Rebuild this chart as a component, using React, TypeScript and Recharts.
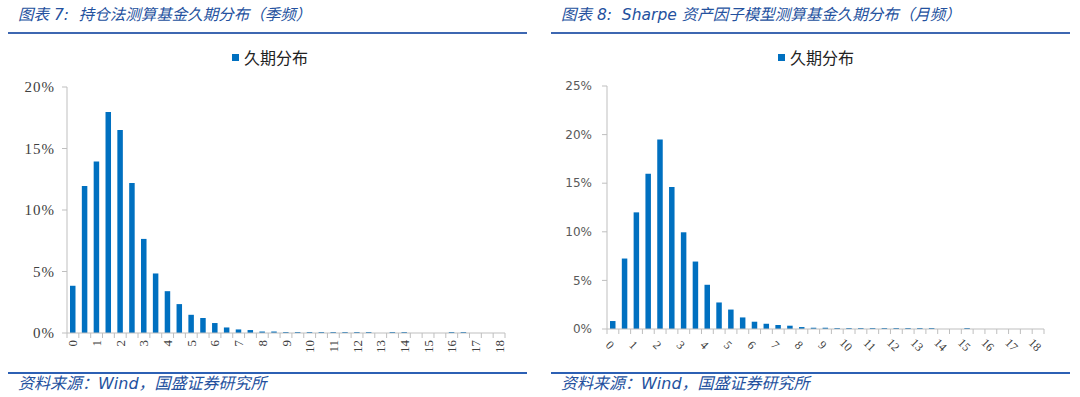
import React from 'react';
import { BarChart, Bar, XAxis, YAxis } from 'recharts';

// 久期（年），每 0.5 年一档
const durations = [
  0, 0.5, 1, 1.5, 2, 2.5, 3, 3.5, 4, 4.5, 5, 5.5, 6, 6.5, 7, 7.5, 8, 8.5, 9,
  9.5, 10, 10.5, 11, 11.5, 12, 12.5, 13, 13.5, 14, 14.5, 15, 15.5, 16, 16.5, 17, 17.5, 18,
];

// 图表 7：持仓法（季频），单位 %
const holdingShare = [
  3.84, 11.95, 13.95, 17.97, 16.5, 12.2, 7.65, 4.84, 3.4, 2.35, 1.48, 1.22, 0.81,
  0.45, 0.29, 0.24, 0.12, 0.12, 0.08, 0.08, 0.08, 0.08, 0.08, 0.08, 0.08, 0.08, 0,
  0.08, 0.08, 0, 0, 0, 0.08, 0.08, 0, 0, 0,
];

// 图表 8：Sharpe 资产因子模型（月频），单位 %
const sharpeShare = [
  0.82, 7.25, 12.0, 15.97, 19.5, 14.6, 9.95, 6.94, 4.55, 2.73, 2.0, 1.19, 0.75,
  0.54, 0.41, 0.34, 0.2, 0.13, 0.13, 0.1, 0.1, 0.1, 0.1, 0.1, 0.1, 0.1, 0.1, 0.1,
  0, 0, 0.1, 0, 0, 0, 0, 0, 0,
];

const durationLabels = [0, 1, 2, 3, 4, 5, 6, 7, 8, 9, 10, 11, 12, 13, 14, 15, 16, 17, 18];
const leftYTicks = [0, 5, 10, 15, 20];
const rightYTicks = [0, 5, 10, 15, 20, 25];

const BLUE = '#0070C0';
const TITLE_BLUE = '#24519e';
const AXIS_GREY = '#bfbfbf';
const CAPTION_FONT = "'DejaVu Sans', 'Noto Sans CJK SC', sans-serif";

const halfStep = 0.25;
const boundaries = [...durations.map((d) => d - halfStep), durations[durations.length - 1] + halfStep];
const xTicks = [...boundaries, ...durationLabels].sort((a, b) => a - b);
const xDomain = [boundaries[0], boundaries[boundaries.length - 1]];

const leftData = durations.map((d, i) => ({ duration: d, share: holdingShare[i] }));
const rightData = durations.map((d, i) => ({ duration: d, share: sharpeShare[i] }));

function LeftTick(props: any) {
  const { x, y, payload } = props;
  if (!Number.isInteger(payload.value)) {
    return <line x1={x} x2={x} y1={y} y2={y + 5} stroke={AXIS_GREY} />;
  }
  const ty = y + 7;
  return (
    <text
      x={x}
      y={ty}
      transform={`rotate(-90 ${x} ${ty})`}
      textAnchor="end"
      dominantBaseline="central"
      fontFamily="'Liberation Serif', serif"
      fontSize={13}
      fill="#404040"
    >
      {payload.value}
    </text>
  );
}

function RightTick(props: any) {
  const { x, y, payload } = props;
  if (!Number.isInteger(payload.value)) {
    return <line x1={x} x2={x} y1={y} y2={y + 5} stroke={AXIS_GREY} />;
  }
  const tx = x - 3;
  const ty = y + 16;
  return (
    <text
      x={tx}
      y={ty}
      transform={`rotate(45 ${tx} ${ty})`}
      textAnchor="middle"
      dominantBaseline="central"
      fontFamily="'Liberation Serif', serif"
      fontSize={12}
      fill="#404040"
    >
      {payload.value}
    </text>
  );
}

function PanelFrame({ left, title, children }: { left: number; title: React.ReactNode; children: React.ReactNode }) {
  const inset = left === 0 ? 0 : 3;
  return (
    <div style={{ position: 'absolute', left, top: 0, width: 540, height: 397 }}>
      <div
        style={{
          position: 'absolute',
          left: 18 + inset,
          top: 5,
          fontSize: 15.5,
          fontStyle: 'italic',
          color: TITLE_BLUE,
          fontFamily: CAPTION_FONT,
          whiteSpace: 'nowrap',
          lineHeight: '20px',
        }}
      >
        {title}
      </div>
      <div style={{ position: 'absolute', left: 8 + inset, top: 32, width: 519, height: 2, background: '#3d67b1' }} />
      {children}
      <div style={{ position: 'absolute', left: 8 + inset, top: 372, width: 519, height: 2, background: '#2c60b4' }} />
      <div
        style={{
          position: 'absolute',
          left: 18 + inset,
          top: 374,
          fontSize: 16,
          fontStyle: 'italic',
          color: TITLE_BLUE,
          fontFamily: CAPTION_FONT,
          whiteSpace: 'nowrap',
          lineHeight: '20px',
        }}
      >
        资料来源：Wind，国盛证券研究所
      </div>
    </div>
  );
}

function LegendBox({ left }: { left: number }) {
  return (
    <div
      style={{
        position: 'absolute',
        left,
        top: 46,
        display: 'flex',
        alignItems: 'center',
        fontFamily: "'Noto Sans CJK SC', sans-serif",
        fontSize: 16,
        color: '#222',
        lineHeight: '22px',
      }}
    >
      <span style={{ width: 7, height: 7, background: BLUE, marginRight: 5, display: 'inline-block' }} />
      久期分布
    </div>
  );
}

export default function App() {
  return (
    <div style={{ position: 'absolute', left: 0, top: 0, width: 1080, height: 397, background: '#fff' }}>
      <PanelFrame left={0} title={<>图表 7:&nbsp; 持仓法测算基金久期分布（季频）</>}>
        <LegendBox left={232} />
        <div style={{ position: 'absolute', left: 0, top: 0 }}>
          <BarChart width={540} height={397} data={leftData} margin={{ top: 87, right: 35, bottom: 34, left: 17 }}>
            <XAxis
              type="number"
              dataKey="duration"
              domain={xDomain}
              ticks={xTicks}
              interval={0}
              tickLine={false}
              tickSize={0}
              tickMargin={0}
              height={30}
              axisLine={{ stroke: AXIS_GREY }}
              tick={<LeftTick />}
            />
            <YAxis
              type="number"
              domain={[0, 20]}
              ticks={leftYTicks}
              interval={0}
              width={50}
              tickSize={5}
              tickMargin={7}
              tickFormatter={(v: number) => `${v}%`}
              axisLine={{ stroke: AXIS_GREY }}
              tickLine={{ stroke: AXIS_GREY }}
              tick={{ fontFamily: "'Liberation Serif', serif", fontSize: 15, fill: '#404040', letterSpacing: 1 }}
            />
            <Bar dataKey="share" fill={BLUE} barSize={5.5} isAnimationActive={false} />
          </BarChart>
        </div>
      </PanelFrame>
      <PanelFrame left={540} title={<>图表 8:&nbsp; Sharpe 资产因子模型测算基金久期分布（月频）</>}>
        <LegendBox left={238} />
        <div style={{ position: 'absolute', left: 0, top: 0 }}>
          <BarChart width={540} height={397} data={rightData} margin={{ top: 86, right: 36, bottom: 38, left: 17 }}>
            <XAxis
              type="number"
              dataKey="duration"
              domain={xDomain}
              ticks={xTicks}
              interval={0}
              tickLine={false}
              tickSize={0}
              tickMargin={0}
              height={30}
              axisLine={{ stroke: AXIS_GREY }}
              tick={<RightTick />}
            />
            <YAxis
              type="number"
              domain={[0, 25]}
              ticks={rightYTicks}
              interval={0}
              width={50}
              tickSize={5}
              tickMargin={10}
              tickFormatter={(v: number) => `${v}%`}
              axisLine={{ stroke: AXIS_GREY }}
              tickLine={{ stroke: AXIS_GREY }}
              tick={{ fontFamily: "'DejaVu Sans', sans-serif", fontSize: 12, fill: '#595959' }}
            />
            <Bar dataKey="share" fill={BLUE} barSize={5.5} isAnimationActive={false} />
          </BarChart>
        </div>
      </PanelFrame>
    </div>
  );
}
